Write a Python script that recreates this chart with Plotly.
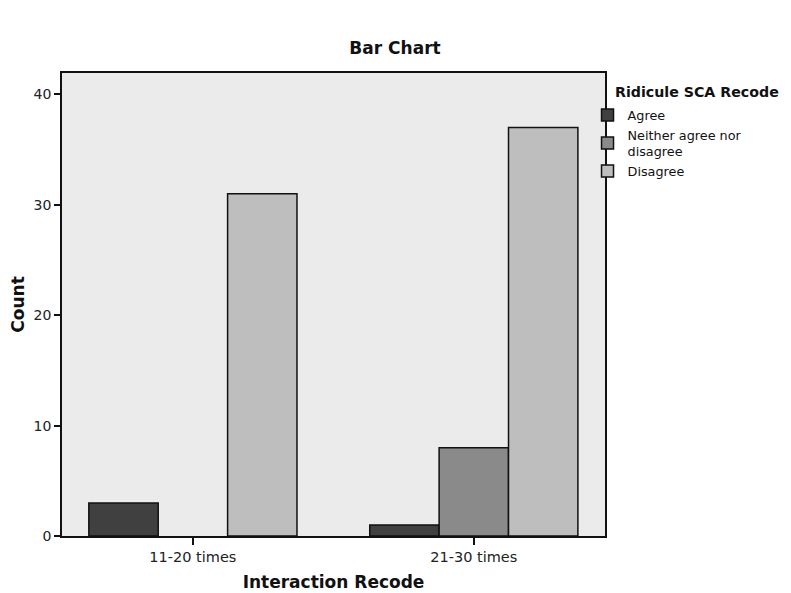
import plotly.graph_objects as go

categories = ["11-20 times", "21-30 times"]
series_names = ["Agree", "Neither agree nor<br>disagree", "Disagree"]
agree = [3, 1]
neither = [None, 8]
disagree = [31, 37]
y_ticks = [0, 10, 20, 30, 40]

colors = ["#404040", "#8a8a8a", "#bebebe"]
FONT = "DejaVu Sans"

# page body has an 8px margin, so work in figure coordinates = screen - 8
OFF = 8
W, H = 791 - OFF, 593 - OFF
PL, PR, PT, PB = 61.7 - OFF, 605.5 - OFF, 72.7 - OFF, 535.7 - OFF
PW, PH = PR - PL, PB - PT

fig = go.Figure()
for name, vals, c in zip(series_names, [agree, neither, disagree], colors):
    fig.add_trace(go.Bar(
        x=categories, y=vals, name=name,
        marker=dict(color=c, line=dict(color="#111111", width=1.5)),
    ))

fig.update_layout(
    width=W, height=H,
    margin=dict(l=PL, r=W - PR, t=PT, b=H - PB, autoexpand=False),
    paper_bgcolor="white", plot_bgcolor="#ebebeb",
    barmode="group", bargap=0.259, bargroupgap=0,
    font=dict(family=FONT, color="#222222"),
    title=dict(text="<b>Bar Chart</b>", x=(395 - OFF) / W, xref="container", xanchor="center",
               y=1 - (48 - OFF) / H, yref="container", yanchor="middle",
               font=dict(size=17, family=FONT, color="#111111")),
    showlegend=True,
    legend=dict(x=(588 - OFF - PL) / PW, xanchor="left", y=(PB - (100 - OFF)) / PH, yanchor="top",
                bgcolor="rgba(0,0,0,0)", font=dict(size=12.8, family=FONT, color="#111111"),
                tracegroupgap=0, itemclick=False, itemwidth=30),
    annotations=[dict(text="<b>Ridicule SCA Recode</b>", xref="paper", yref="paper",
                      x=(614 - OFF - PL) / PW, y=(PB - (92 - OFF)) / PH, xanchor="left", yanchor="middle",
                      showarrow=False, font=dict(size=14.2, family=FONT, color="#111111"))],
)

fig.update_xaxes(
    range=[-0.466, 1.467], showline=True, linecolor="#111111", linewidth=1.5, mirror=True,
    ticks="outside", ticklen=7, tickcolor="#111111", tickwidth=1.5, automargin=False,
    tickfont=dict(size=14.5, color="#222222"), showgrid=False,
    title=dict(text="<b>Interaction Recode</b>", font=dict(size=17, color="#111111"), standoff=12),
)
fig.update_yaxes(
    range=[0, 41.94], tickvals=y_ticks, showline=True, linecolor="#111111", linewidth=1.5, mirror=True,
    ticks="outside", ticklen=6, tickcolor="#111111", tickwidth=1.5, automargin=False,
    tickfont=dict(size=14, color="#222222"), showgrid=False, zeroline=False,
    title=dict(text="<b>Count</b>", font=dict(size=17, color="#111111"), standoff=6),
)

fig.write_html("out.html")
